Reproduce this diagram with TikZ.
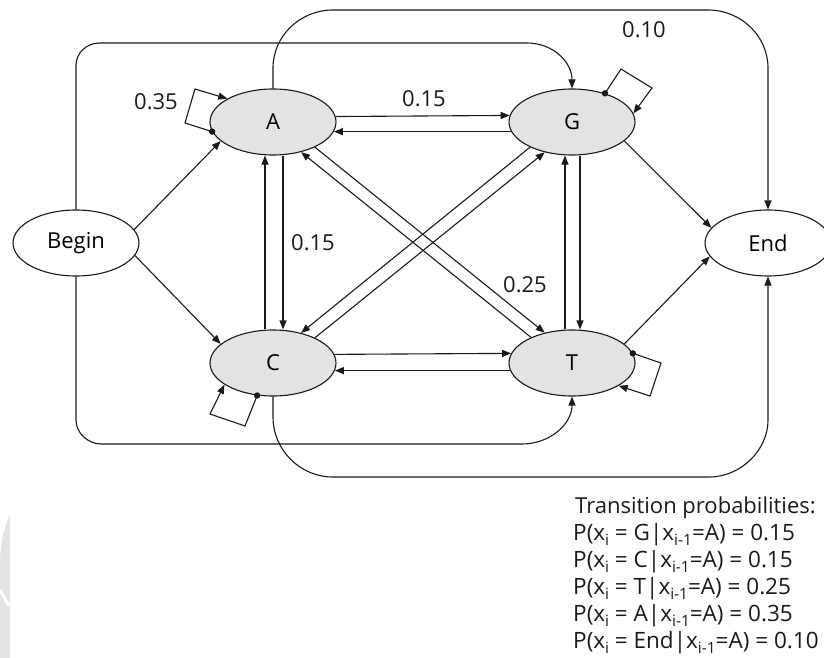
\documentclass[tikz,border=0pt]{standalone}
\usepackage{fontspec}
\setmainfont{Open Sans}
\usetikzlibrary{arrows.meta,shapes.geometric}
\definecolor{nodegray}{HTML}{E3E3E3}
\definecolor{ink}{HTML}{1A1A1A}
\newcommand{\lowsub}[1]{\raisebox{-0.26em}{\fontsize{15.5}{15.5}\selectfont #1}}
\begin{document}
\begin{tikzpicture}[x=1pt,y=-1pt,
  state/.style={ellipse, draw=ink, line width=1.1pt, fill=nodegray, minimum width=126pt, minimum height=66pt, inner sep=0pt, font=\fontsize{22}{26}\selectfont},
  term/.style={state, fill=white},
  edge/.style={draw=ink, line width=1.1pt, -{Triangle[length=9pt,width=7pt]}},
  lbl/.style={font=\fontsize{22}{26}\selectfont, inner sep=0pt, text=ink},
  probline/.style={anchor=base west, inner sep=0pt, text=ink, font=\fontsize{22.5}{26}\selectfont},
  dot/.style={fill=ink},
  ]
\useasboundingbox (0,0) rectangle (824,658);
% faint watermark at lower left
\fill[gray!22] (10,515) .. controls (3,530) and (0,545) .. (0,565) -- (0,658) -- (10,658) -- cycle;
\draw[white, line width=3pt] (0,590) -- (9,606);

% nodes
\node[state] (A) at (273,122) {A};
\node[state] (G) at (572,122) {G};
\node[state] (C) at (273,363) {C};
\node[state] (T) at (572,363) {T};
\node[term] (Begin) at (76,243) {Begin};
\node[term] (End) at (768,243) {End};

% begin / end straight edges
\draw[edge] (Begin.13.6) -- (A.200.9);
\draw[edge] (Begin.-12.5) -- (C.160);
\draw[edge] (G.-20.2) -- (End.165.7);
\draw[edge] (T.20) -- (End.193.3);

% A <-> G
\draw[edge] (A.5.53) -- (G.174.47);
\draw[edge] (G.189.46) -- (A.-9.46);
% C <-> T
\draw[edge] (C.8.45) -- (T.171.55);
\draw[edge] (T.187.46) -- (C.-7.46);
% A <-> C
\draw[edge] ([xshift=10pt]A.south) -- ([xshift=10pt]C.north);
\draw[edge] ([xshift=-8pt]C.north) -- ([xshift=-8pt]A.south);
% G <-> T
\draw[edge] ([xshift=8pt]G.south) -- ([xshift=8pt]T.north);
\draw[edge] ([xshift=-7pt]T.north) -- ([xshift=-7pt]G.south);
% A <-> T
\draw[edge] (A.-31.7) -- (T.132.6);
\draw[edge] (T.148.3) -- (A.-47.4);
% G <-> C
\draw[edge] (G.211.7) -- (C.47.4);
\draw[edge] (C.31.7) -- (G.-132.6);

% long routed edges
\draw[edge] (Begin.north) -- (76,65) .. controls (76,53) and (87,43) .. (99,43) -- (527,43) .. controls (553,43) and (572,62) .. (G.north);
\draw[edge] (Begin.south) -- (76,420) .. controls (76,433) and (88,444) .. (101,444) -- (522,444) .. controls (550,444) and (572,424) .. (T.south);
\draw[edge] (A.north) -- (273,68) .. controls (273,36) and (300,10) .. (333,10) -- (708,10) .. controls (741,10) and (768,36) .. (768,68) -- (End.north);
\draw[edge] (C.south) -- (273,417) .. controls (273,450) and (300,477) .. (333,477) -- (709,477) .. controls (741,477) and (768,450) .. (768,420) -- (End.south);

% self loops
\draw[edge] (A.189.5) -- (185,123) -- (195,89) -- (A.153.9);
\fill[dot] (A.189.5) circle (3.2pt);
\draw[edge] (G.41.3) -- (621,69) -- (652,88) -- (G.8);
\fill[dot] (G.41.3) circle (3.2pt);
\draw[edge] (C.244.8) -- (245,426) -- (210,414) -- (C.204);
\fill[dot] (C.244.8) circle (3.2pt);
\draw[edge] (T.9.5) -- (661,363) -- (650,396) -- (T.-26.6);
\fill[dot] (T.9.5) circle (3.2pt);

% labels
\node[lbl] (l35) at (156,102) {0.35};
\node[lbl] (l15a) at (424,99) {0.15};
\node[lbl] (l15b) at (313,243) {0.15};
\node[lbl] (l25) at (525,285) {0.25};
\node[lbl] (l10) at (644,30) {0.10};

% transition probabilities
\node[probline, font=\fontsize{22}{26}\selectfont] (p0) at (575,513) {Transition probabilities:};
\node[probline] (p1) at (573,540) {P(x\lowsub{i} = G|x\lowsub{i-1}=A) = 0.15};
\node[probline] (p2) at (573,567) {P(x\lowsub{i} = C|x\lowsub{i-1}=A) = 0.15};
\node[probline] (p3) at (573,594) {P(x\lowsub{i} = T|x\lowsub{i-1}=A) = 0.25};
\node[probline] (p4) at (573,621) {P(x\lowsub{i} = A|x\lowsub{i-1}=A) = 0.35};
\node[probline] (p5) at (573,648) {P(x\lowsub{i} = End|x\lowsub{i-1}=A) = 0.10};
\end{tikzpicture}
\end{document}
